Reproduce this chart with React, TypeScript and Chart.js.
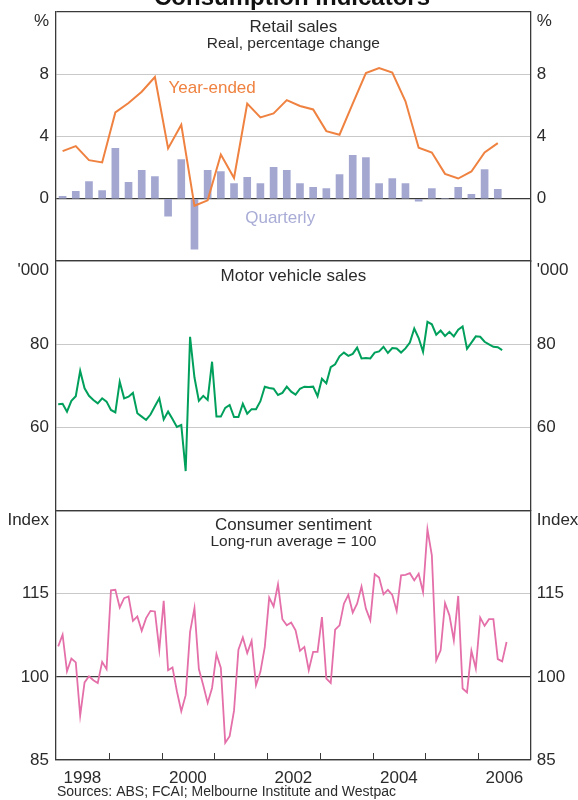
import React, { useEffect, useRef } from 'react';
import { Chart, registerables } from 'chart.js';

Chart.register(...registerables);

const FONT = '"Liberation Sans", Arial, Helvetica, sans-serif';
const TEXT = '#2b2b2b';
const DARK = '#3a3a3a';
const LIGHT = '#c9c9c9';
const ORANGE = '#ef8240';
const LAVENDER = '#a4a8d1';
const GREEN = '#00a05c';
const PINK = '#e46fa9';

// ---- data ----
const firstYear = 1998;
const lastYear = 2007;
const yearLabels = [1998, 2000, 2002, 2004, 2006];

// Retail sales, quarterly from 1998 Q1 (% change)
const retailQuarterly = [0.15, 0.47, 1.11, 0.53, 3.23, 1.05, 1.82, 1.43, -1.11, 2.52, -3.23, 1.82, 1.75, 0.98, 1.37, 0.98, 2.01, 1.82, 0.98, 0.73, 0.66, 1.56, 2.78, 2.65, 0.98, 1.3, 0.98, -0.15, 0.66, 0.0, 0.73, 0.28, 1.88, 0.6];
const retailYearEnded = [3.06, 3.38, 2.48, 2.33, 5.54, 6.14, 6.87, 7.81, 3.23, 4.75, -0.45, -0.1, 2.84, 1.33, 6.1, 5.22, 5.48, 6.33, 5.95, 5.73, 4.34, 4.11, 6.1, 8.06, 8.39, 8.09, 6.25, 3.27, 2.97, 1.6, 1.3, 1.75, 2.97, 3.57];

// Motor vehicle sales, monthly from Jan 1998 ('000)
const motorVehicleSales = [65.6, 65.7, 63.8, 66.4, 67.5, 73.6, 69.4, 67.6, 66.6, 65.8, 67.0, 66.2, 64.2, 63.6, 71.0, 67.0, 67.4, 68.3, 63.4, 62.6, 61.8, 63.1, 65.1, 67.0, 61.9, 63.8, 62.0, 60.1, 60.6, 49.5, 81.8, 72.0, 66.4, 67.6, 66.6, 75.8, 62.6, 62.6, 64.7, 65.4, 62.5, 62.5, 65.7, 63.3, 64.4, 64.4, 66.3, 69.8, 69.5, 69.3, 67.8, 68.3, 69.8, 68.6, 67.9, 69.3, 69.8, 69.7, 69.8, 67.5, 71.7, 70.6, 74.5, 75.2, 77.1, 78.0, 77.2, 77.7, 79.2, 76.6, 76.7, 76.6, 78.0, 78.3, 79.4, 77.9, 79.1, 79.0, 78.0, 79.0, 80.4, 83.8, 81.5, 78.2, 85.4, 84.8, 82.3, 83.3, 82.0, 83.0, 81.9, 83.5, 84.3, 78.9, 80.4, 81.9, 81.8, 80.6, 80.0, 79.4, 79.3, 78.6];

// Consumer sentiment, monthly from Jan 1998 (index)
const consumerSentiment = [105.5, 107.6, 101.0, 103.3, 102.6, 93.0, 99.0, 100.1, 99.4, 98.9, 102.7, 101.4, 115.6, 115.7, 112.5, 114.2, 114.5, 110.1, 110.9, 108.3, 110.6, 111.9, 111.8, 104.9, 113.7, 101.2, 101.7, 97.4, 93.8, 96.7, 108.1, 112.4, 101.4, 98.5, 95.3, 98.0, 104.1, 101.6, 88.1, 89.3, 93.9, 104.9, 107.1, 104.3, 106.5, 98.5, 100.9, 105.4, 114.3, 112.7, 116.7, 110.4, 109.3, 109.8, 108.4, 104.7, 105.4, 101.2, 104.5, 104.5, 110.8, 99.7, 98.9, 108.5, 109.3, 113.2, 114.8, 111.6, 113.2, 116.3, 112.3, 110.2, 118.5, 117.9, 114.9, 115.7, 114.8, 111.9, 118.3, 118.4, 118.7, 117.4, 118.6, 115.3, 126.6, 121.9, 103.0, 104.8, 113.3, 111.1, 106.6, 114.6, 97.9, 97.2, 104.7, 101.5, 110.7, 109.2, 110.4, 110.4, 103.2, 102.8, 106.3];

// axis ranges and visible tick labels
const retailRange = [-4, 12, 4];
const retailTicks = [0, 4, 8];
const motorRange = [40, 100, 20];
const motorTicks = [60, 80];
const sentimentRange = [85, 130, 15];
const sentimentTicks = [85, 100, 115];

const panelTitles = [
  ['Retail sales', 'Real, percentage change'],
  ['Motor vehicle sales', ''],
  ['Consumer sentiment', 'Long-run average = 100'],
];
const unitLabels = ['%', "'000", 'Index'];

const quarterX = (i: number) => firstYear + (i + 0.5) / 4;
const monthX = (i: number) => firstYear + (i + 0.5) / 12;

function yAxis(range: number[], visible: number[], baselines: number[], side: 'left' | 'right', weight: number) {
  const [min, max, step] = range;
  return {
    type: 'linear',
    position: side,
    stack: side,
    stackWeight: 1,
    weight,
    min,
    max,
    ticks: {
      stepSize: step,
      padding: side === 'left' ? 7 : 6,
      color: TEXT,
      font: { family: FONT, size: 17 },
      callback: (v: number) => (visible.includes(v) ? String(v) : ''),
    },
    grid: side === 'left'
      ? {
          drawTicks: false,
          lineWidth: (ctx: any) => (ctx.tick && (baselines.includes(ctx.tick.value) || ctx.tick.value === min || ctx.tick.value === max) ? 1.3 : 1),
          color: (ctx: any) => (ctx.tick && (baselines.includes(ctx.tick.value) || ctx.tick.value === min || ctx.tick.value === max) ? DARK : LIGHT),
        }
      : { display: false, drawTicks: false },
    border: { display: true, color: DARK, width: 1.3 },
    afterFit: (s: any) => {
      s.width = side === 'left' ? 56 : 47.25;
      s.paddingTop = 0;
      s.paddingBottom = 0;
    },
  };
}

const textPlugin = {
  id: 'texts',
  afterDraw(chart: any) {
    const { ctx, chartArea, scales } = chart;
    const cx = (chartArea.left + chartArea.right) / 2;
    ctx.save();
    // main title (cut off at top)
    ctx.fillStyle = '#111';
    ctx.font = `bold 24px ${FONT}`;
    ctx.textAlign = 'center';
    ctx.textBaseline = 'alphabetic';
    ctx.fillText('Consumption indicators', 292, 4.5);

    const panels = [scales.y1, scales.y2, scales.y3];
    const titleOffsets = [20.6, 19.5, 19.3];
    const subOffsets = [35.8, 0, 35];
    panels.forEach((s: any, i: number) => {
      const top = s.top;
      ctx.fillStyle = TEXT;
      ctx.textAlign = 'center';
      ctx.textBaseline = 'alphabetic';
      ctx.font = `17px ${FONT}`;
      ctx.fillText(panelTitles[i][0], cx, top + titleOffsets[i]);
      if (panelTitles[i][1]) {
        ctx.font = `15.5px ${FONT}`;
        ctx.fillText(panelTitles[i][1], cx, top + subOffsets[i]);
      }
      ctx.font = `17px ${FONT}`;
      ctx.textBaseline = 'middle';
      ctx.textAlign = 'right';
      ctx.fillText(unitLabels[i], chartArea.left - 7, top + 9.5);
      ctx.textAlign = 'left';
      ctx.fillText(unitLabels[i], chartArea.right + 6, top + 9.5);
    });

    // series labels
    const x = scales.x;
    ctx.textAlign = 'center';
    ctx.textBaseline = 'middle';
    ctx.font = `17px ${FONT}`;
    ctx.fillStyle = ORANGE;
    ctx.fillText('Year-ended', x.getPixelForValue(2000.96), scales.y1.getPixelForValue(7.08));
    ctx.fillStyle = '#a9acd6';
    ctx.fillText('Quarterly', x.getPixelForValue(2002.25), scales.y1.getPixelForValue(-1.26));

    // inward year ticks
    ctx.strokeStyle = DARK;
    ctx.lineWidth = 1;
    for (let y = firstYear + 1; y < lastYear; y++) {
      const px = Math.round(x.getPixelForValue(y)) + 0.5;
      ctx.beginPath();
      ctx.moveTo(px, chartArea.bottom);
      ctx.lineTo(px, chartArea.bottom - 7);
      ctx.stroke();
    }

    // source
    ctx.fillStyle = TEXT;
    ctx.textAlign = 'left';
    ctx.textBaseline = 'alphabetic';
    ctx.font = `14px ${FONT}`;
    ctx.fillText('Sources: ABS; FCAI; Melbourne Institute and Westpac', 57, 796);
    ctx.restore();
  },
};

export default function App() {
  const ref = useRef<HTMLCanvasElement | null>(null);
  useEffect(() => {
    if (!ref.current) return;
    const chart = new Chart(ref.current, {
      type: 'bar',
      data: {
        datasets: [
          {
            type: 'line',
            label: 'Year-ended',
            data: retailYearEnded.map((v, i) => ({ x: quarterX(i), y: v })),
            borderColor: ORANGE,
            borderWidth: 2,
            pointRadius: 0,
            tension: 0,
            xAxisID: 'x',
            yAxisID: 'y1',
          },
          {
            type: 'bar',
            label: 'Quarterly',
            data: retailQuarterly.map((v, i) => ({ x: quarterX(i), y: v })),
            backgroundColor: LAVENDER,
            borderWidth: 0,
            barThickness: 7,
            xAxisID: 'x',
            yAxisID: 'y1',
          },
          {
            type: 'line',
            label: 'Motor vehicle sales',
            data: motorVehicleSales.map((v, i) => ({ x: monthX(i), y: v })),
            borderColor: GREEN,
            borderWidth: 2,
            pointRadius: 0,
            tension: 0,
            xAxisID: 'x',
            yAxisID: 'y2',
          },
          {
            type: 'line',
            label: 'Consumer sentiment',
            data: consumerSentiment.map((v, i) => ({ x: monthX(i), y: v })),
            borderColor: PINK,
            borderWidth: 1.8,
            pointRadius: 0,
            tension: 0,
            xAxisID: 'x',
            yAxisID: 'y3',
          },
        ],
      } as any,
      options: {
        animation: false,
        responsive: false,
        maintainAspectRatio: false,
        layout: { padding: { top: 11.7, left: 0, right: 0, bottom: 0 } },
        plugins: { legend: { display: false }, tooltip: { enabled: false }, title: { display: false } },
        scales: {
          x: {
            type: 'linear',
            position: 'bottom',
            min: firstYear,
            max: lastYear,
            offset: false,
            afterBuildTicks: (s: any) => {
              s.ticks = yearLabels.map((y) => ({ value: y + 0.5 }));
            },
            ticks: {
              autoSkip: false,
              maxRotation: 0,
              padding: 8,
              color: TEXT,
              font: { family: FONT, size: 17 },
              callback: (v: number) => String(Math.floor(v)),
            },
            grid: { display: false, drawTicks: false },
            border: { display: true, color: DARK, width: 1.3 },
            afterFit: (s: any) => {
              s.height = 40;
            },
          },
          y1: yAxis(retailRange, retailTicks, [0], 'left', 3),
          y2: yAxis(motorRange, motorTicks, [], 'left', 2),
          y3: yAxis(sentimentRange, sentimentTicks, [100], 'left', 1),
          r1: yAxis(retailRange, retailTicks, [0], 'right', 1),
          r2: yAxis(motorRange, motorTicks, [], 'right', 2),
          r3: yAxis(sentimentRange, sentimentTicks, [100], 'right', 3),
        } as any,
      },
      plugins: [textPlugin],
    });
    return () => chart.destroy();
  }, []);
  return (
    <div style={{ position: 'fixed', left: 0, top: 0, width: 578, height: 800, background: '#fff' }}>
      <canvas ref={ref} width={578} height={800} style={{ display: 'block' }} />
    </div>
  );
}
